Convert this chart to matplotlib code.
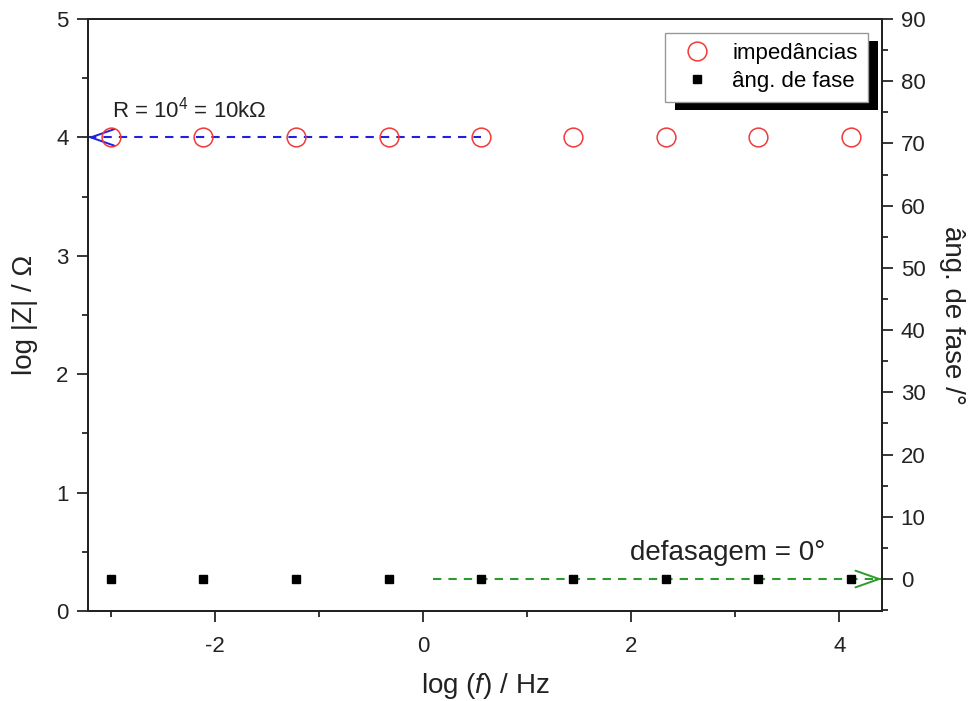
import matplotlib
matplotlib.use("Agg")
import matplotlib.pyplot as plt
from matplotlib.patches import Rectangle
from matplotlib.ticker import MultipleLocator

plt.rcParams['font.family'] = ['Liberation Sans', 'DejaVu Sans']
plt.rcParams['axes.unicode_minus'] = False
plt.rcParams['mathtext.fontset'] = 'custom'
plt.rcParams['mathtext.rm'] = 'Liberation Sans'
plt.rcParams['mathtext.it'] = 'Liberation Sans:italic'

# dados
log_f = [-3.0, -2.11, -1.22, -0.33, 0.56, 1.44, 2.33, 3.22, 4.11]
log_z = [4.0, 4.0, 4.0, 4.0, 4.0, 4.0, 4.0, 4.0, 4.0]
fase = [0.0, 0.0, 0.0, 0.0, 0.0, 0.0, 0.0, 0.0, 0.0]

xlim = (-3.22, 4.41)
ylim_z = (0, 5)
ylim_fase = (-5.14, 90)

r_linha = (xlim[0], 0.56)      # trecho da seta azul (R)
fase_linha = (0.1, xlim[1])    # trecho da seta verde (fase)

fig = plt.figure(figsize=(9.72, 7.01), dpi=100)
ax = fig.add_axes([0.0905, 0.1284, 0.8169, 0.8445])
ax2 = ax.twinx()

ax.set_xlim(*xlim)
ax.set_ylim(*ylim_z)
ax2.set_ylim(*ylim_fase)

seta = '->,head_length=0.85,head_width=0.3'

# seta azul em log|Z| = 4
ax.plot(r_linha, [log_z[0], log_z[0]], color='#2020e0', lw=1.5, dashes=(4, 3.4))
ax.annotate('', xy=(r_linha[0], log_z[0]), xytext=(r_linha[0] + 0.06, log_z[0]),
            arrowprops=dict(arrowstyle=seta, color='#2020e0', lw=1.4,
                            mutation_scale=20, shrinkA=0, shrinkB=0),
            annotation_clip=False)

# seta verde em fase = 0
ax2.plot(fase_linha, [fase[0], fase[0]], color='#2e9a2e', lw=1.5, dashes=(4, 3.4))
ax2.annotate('', xy=(fase_linha[1], fase[0]), xytext=(fase_linha[1] - 0.06, fase[0]),
             arrowprops=dict(arrowstyle=seta, color='#2e9a2e', lw=1.4,
                             mutation_scale=20, shrinkA=0, shrinkB=0),
             annotation_clip=False)

l1, = ax.plot(log_f, log_z, 'o', mfc='none', mec='#f03a3a', mew=1.1, ms=13.5,
              label='impedâncias', clip_on=False, zorder=5)
l2, = ax2.plot(log_f, fase, 's', color='black', ms=5.3, label='âng. de fase',
               clip_on=False, zorder=5)

ax.text(-2.99, 4.17, r'R = 10$^4$ = 10k$\Omega$', fontsize=16, color='#222222')
ax2.text(1.99, 3.0, 'defasagem = 0°', fontsize=20, color='#222222')

ax.set_xlabel(r'log ($\it{f}$) / Hz', fontsize=20, color='#222222', labelpad=10)
ax.set_ylabel('log |Z| / Ω', fontsize=20, color='#222222', labelpad=13)
ax2.set_ylabel('âng. de fase /°', fontsize=20, color='#222222', rotation=-90,
               labelpad=28)

ax.xaxis.set_major_locator(MultipleLocator(2))
ax.xaxis.set_minor_locator(MultipleLocator(1))
ax.yaxis.set_major_locator(MultipleLocator(1))
ax.yaxis.set_minor_locator(MultipleLocator(0.5))
ax2.yaxis.set_major_locator(MultipleLocator(10))
ax2.yaxis.set_minor_locator(MultipleLocator(5))

for a in (ax, ax2):
    a.tick_params(which='major', direction='out', length=8, width=1.1,
                  labelsize=16, labelcolor='#222222')
    a.tick_params(which='minor', direction='out', length=4.3, width=1.1)
    for s in a.spines.values():
        s.set_linewidth(1.4)
        s.set_color('#222222')
ax.tick_params(top=False, right=False, which='both')
ax.tick_params(axis='x', which='major', pad=10)
ax.tick_params(axis='y', which='major', pad=6)
ax2.tick_params(axis='y', which='major', pad=5.5)
ax2.yaxis.set_ticks_position('right')

leg = ax2.legend(handles=[l1, l2], loc='upper right',
                 bbox_to_anchor=(0.982, 0.976), fontsize=16, frameon=True,
                 fancybox=False, edgecolor='#999999', framealpha=1,
                 handlelength=2.0, handletextpad=0.6, labelspacing=0.3,
                 borderpad=0.45, borderaxespad=0)
leg.get_frame().set_linewidth(1.0)

# sombra preta do legenda, estilo Origin
fig.canvas.draw()
bb = leg.get_window_extent().transformed(fig.transFigure.inverted())
dx, dy = 10 / 972, 8 / 701
sombra = Rectangle((bb.x0 + dx, bb.y0 - dy), bb.width, bb.height,
                   transform=fig.transFigure, facecolor='black',
                   edgecolor='none', zorder=leg.get_zorder() - 0.5)
ax2.add_artist(sombra)
sombra.set_clip_on(False)

fig.savefig('out.png', dpi=100)
